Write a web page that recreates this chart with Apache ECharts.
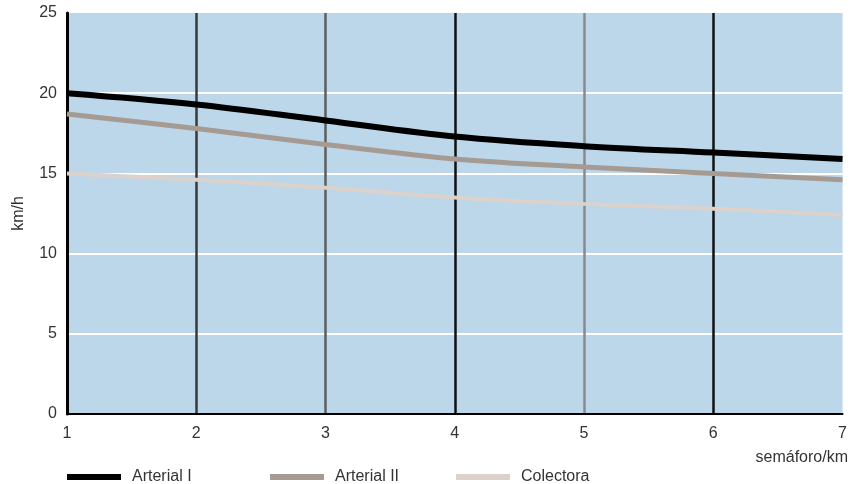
<!DOCTYPE html>
<html>
<head>
<meta charset="utf-8">
<script src="https://cdn.jsdelivr.net/npm/echarts@6/dist/echarts.min.js"></script>
<style>html,body{margin:0;padding:0;background:#fff;}#c{width:850px;height:484px;}</style>
</head>
<body>
<div id="c"></div>
<script>
var xValues = [1, 2, 3, 4, 5, 6, 7];
var arterialI = [20.0, 19.3, 18.3, 17.3, 16.7, 16.3, 15.9];
var arterialII = [18.7, 17.8, 16.8, 15.9, 15.4, 15.0, 14.6];
var colectora = [15.0, 14.6, 14.1, 13.5, 13.1, 12.8, 12.4];
var seriesNames = ['Arterial I', 'Arterial II', 'Colectora'];
var xName = 'semáforo/km';
var yName = 'km/h';

function pairs(ys) { return xValues.map(function (x, i) { return [x, ys[i]]; }); }

var chart = echarts.init(document.getElementById('c'));
var font = 'Liberation Sans, Arial, sans-serif';
var legendBase = {
  orient: 'horizontal', top: 469, itemWidth: 54, itemHeight: 6, itemGap: 0, padding: 0,
  icon: 'rect', textStyle: { fontSize: 16, color: '#333', fontFamily: font, padding: [0, 0, 0, 6] },
  selectedMode: false
};
chart.setOption({
  animation: false,
  grid: { left: 67, right: 7, top: 13, bottom: 70, show: true, backgroundColor: '#bcd6ea', borderWidth: 0 },
  xAxis: {
    type: 'value', min: 1, max: 7, interval: 1,
    axisLine: { lineStyle: { color: '#000', width: 2 } },
    axisTick: { show: false },
    axisLabel: { fontSize: 16, color: '#333', fontFamily: font, margin: 12 },
    splitLine: { show: true, lineStyle: { color: ['rgba(0,0,0,0)', '#3a3a3a', '#5e5e5e', '#111', '#8a8a8a', '#111', 'rgba(0,0,0,0)'], width: 2.5 } }
  },
  yAxis: {
    type: 'value', min: 0, max: 25, interval: 5,
    name: yName, nameLocation: 'middle', nameGap: 40, nameRotate: 90,
    nameTextStyle: { fontSize: 16, color: '#333', fontFamily: font },
    axisLine: { show: true, lineStyle: { color: '#000', width: 3 } },
    axisTick: { show: false },
    axisLabel: { fontSize: 16, color: '#333', fontFamily: font, margin: 10 },
    splitLine: { show: true, lineStyle: { color: ['rgba(0,0,0,0)', '#fff', '#fff', '#fff', '#fff', 'rgba(0,0,0,0)'], width: 2 } }
  },
  legend: [
    Object.assign({}, legendBase, { left: 67, data: [seriesNames[0]] }),
    Object.assign({}, legendBase, { left: 270, data: [seriesNames[1]] }),
    Object.assign({}, legendBase, { left: 456, data: [seriesNames[2]] })
  ],
  graphic: [
    { type: 'text', right: 2, top: 450, style: { text: xName, fill: '#333', font: '16px ' + font } }
  ],
  series: [
    { name: seriesNames[2], type: 'line', data: pairs(colectora), smooth: 0.35, symbol: 'none',
      lineStyle: { color: '#dcd2cb', width: 4 }, itemStyle: { color: '#dcd2cb' }, z: 3 },
    { name: seriesNames[1], type: 'line', data: pairs(arterialII), smooth: 0.35, symbol: 'none',
      lineStyle: { color: '#a69b93', width: 5 }, itemStyle: { color: '#a69b93' }, z: 4 },
    { name: seriesNames[0], type: 'line', data: pairs(arterialI), smooth: 0.35, symbol: 'none',
      lineStyle: { color: '#000', width: 6 }, itemStyle: { color: '#000' }, z: 5 }
  ]
});
</script>
</body>
</html>
